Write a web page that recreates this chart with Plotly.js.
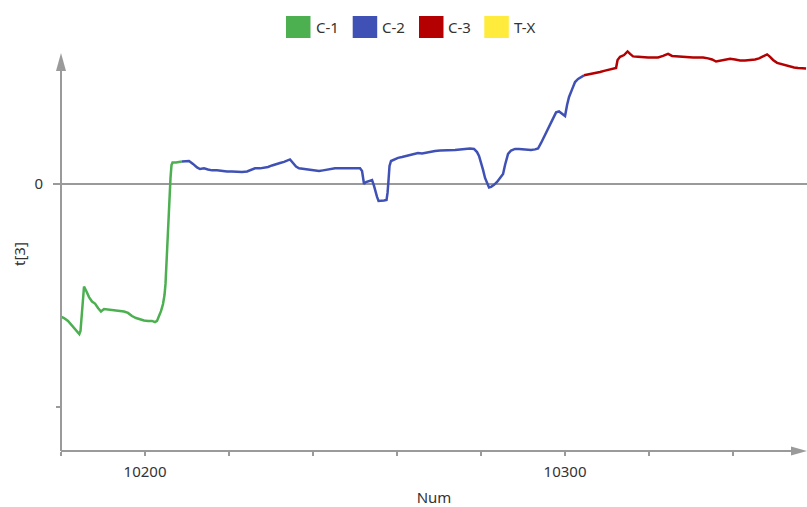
<!DOCTYPE html>
<html>
<head>
<meta charset="utf-8">
<script src="https://cdn.plot.ly/plotly-3.0.1.min.js"></script>
<style>
  html, body { margin: 0; padding: 0; background: #fff; }
  #chart { width: 807px; height: 507px; }
</style>
</head>
<body>
<div id="chart"></div>
<script>
// Series names and colours
const seriesNames = ['C-1', 'C-2', 'C-3', 'T-X'];
const seriesColors = ['#4caf50', '#3f51b5', '#b40000', '#ffeb3b'];

// C-1
const c1X = [10180.00,10180.71,10181.67,10182.86,10184.36,10184.64,10184.88,10185.12,10185.48,10186.07,
  10186.67,10187.38,10188.10,10188.81,10189.52,10190.24,10191.19,10192.14,10193.10,10194.05,
  10195.00,10195.95,10196.90,10197.86,10198.81,10199.76,10200.71,10201.67,10202.38,10202.86,
  10203.33,10203.81,10204.29,10204.64,10204.88,10205.12,10205.36,10205.60,10205.83,10206.07,
  10206.31,10206.55,10207.38,10208.10,10208.81];
const c1Y = [-0.595,-0.601,-0.614,-0.641,-0.673,-0.659,-0.601,-0.520,-0.460,-0.482,
  -0.507,-0.527,-0.536,-0.556,-0.572,-0.561,-0.563,-0.567,-0.570,-0.572,
  -0.572,-0.578,-0.592,-0.601,-0.608,-0.612,-0.614,-0.614,-0.619,-0.614,
  -0.592,-0.570,-0.538,-0.498,-0.448,-0.341,-0.229,-0.139,-0.049,0.027,
  0.085,0.096,0.096,0.099,0.101];

// C-2
const c2X = [10208.81,10209.76,10210.48,10211.43,10212.38,10213.10,10214.05,10215.00,10215.95,10217.14,
  10218.33,10219.52,10220.71,10221.90,10223.10,10224.29,10225.24,10226.19,10227.38,10228.33,
  10229.29,10230.24,10231.19,10232.14,10233.10,10234.05,10234.52,10235.24,10235.95,10236.67,
  10237.86,10239.05,10240.24,10241.43,10242.38,10243.33,10244.29,10245.24,10246.43,10247.62,
  10248.81,10250.00,10251.19,10251.67,10251.90,10252.14,10252.62,10253.10,10253.57,10254.05,
  10254.52,10254.88,10255.24,10255.60,10256.19,10256.90,10257.50,10257.74,10257.98,10258.21,
  10258.57,10259.29,10260.24,10261.19,10262.14,10263.10,10264.05,10265.00,10265.95,10266.90,
  10267.86,10269.05,10270.24,10271.43,10272.62,10273.81,10275.00,10276.19,10277.38,10278.33,
  10279.05,10279.52,10280.00,10280.48,10280.95,10281.43,10281.90,10282.38,10283.10,10283.81,
  10284.52,10285.24,10285.71,10286.07,10286.43,10287.14,10288.10,10289.05,10290.00,10290.95,
  10291.90,10292.86,10293.57,10294.29,10295.00,10295.71,10296.43,10297.14,10297.86,10298.57,
  10299.29,10300.00,10300.48,10300.95,10301.67,10302.38,10303.10,10303.81,10304.52];
const c2Y = [0.101,0.103,0.103,0.090,0.074,0.067,0.070,0.065,0.061,0.061,
  0.058,0.056,0.056,0.054,0.054,0.056,0.063,0.070,0.070,0.072,
  0.076,0.083,0.087,0.094,0.099,0.108,0.110,0.094,0.078,0.070,
  0.067,0.065,0.061,0.058,0.061,0.065,0.067,0.070,0.070,0.070,
  0.070,0.070,0.070,0.058,0.031,0.000,0.009,0.013,0.016,0.018,
  -0.009,-0.036,-0.058,-0.076,-0.076,-0.074,-0.072,-0.040,0.018,0.081,
  0.103,0.110,0.117,0.121,0.126,0.130,0.135,0.139,0.137,0.141,
  0.146,0.148,0.150,0.150,0.152,0.152,0.155,0.157,0.159,0.157,
  0.143,0.126,0.099,0.063,0.027,0.000,-0.016,-0.013,-0.004,0.009,
  0.025,0.045,0.085,0.117,0.135,0.150,0.157,0.157,0.155,0.152,
  0.152,0.155,0.159,0.184,0.211,0.238,0.265,0.291,0.321,0.325,
  0.316,0.305,0.354,0.390,0.424,0.457,0.471,0.480,0.487];

// C-3
const c3X = [10304.52,10305.48,10306.43,10307.38,10308.33,10309.29,10310.24,10311.19,10312.14,10312.50,
  10313.10,10314.05,10314.88,10315.48,10316.19,10317.38,10318.57,10319.76,10320.95,10322.14,
  10323.33,10324.52,10325.48,10326.67,10328.10,10329.29,10330.48,10331.67,10332.86,10334.05,
  10335.00,10335.95,10336.90,10338.10,10339.29,10340.48,10341.67,10342.86,10344.05,10345.24,
  10346.19,10347.14,10348.10,10348.81,10349.52,10350.48,10351.67,10352.62,10353.57,10354.52,
  10355.48,10356.43,10357.38];
const c3Y = [0.487,0.490,0.493,0.498,0.502,0.507,0.511,0.518,0.520,0.556,
  0.570,0.578,0.594,0.583,0.572,0.570,0.567,0.567,0.567,0.567,
  0.574,0.583,0.574,0.572,0.572,0.570,0.567,0.567,0.567,0.563,
  0.558,0.549,0.552,0.556,0.561,0.558,0.554,0.554,0.556,0.558,
  0.563,0.572,0.581,0.570,0.556,0.543,0.536,0.531,0.527,0.522,
  0.520,0.518,0.518];

// T-X (no points in this range)
const txX = [];
const txY = [];

// Axis ticks
const xTickVals = [10180, 10200, 10220, 10240, 10260, 10280, 10300, 10320, 10340];
const xTickText = ['', '10200', '', '', '', '', '10300', '', ''];
const yTickVals = [0, -1];
const yTickText = ['0', ''];
const xRange = [10180, 10357.6];
const yRange = [-1.197, 0.623];
const yTitle = 't[3]';
const xTitle = 'Num';

// ---- drawing ----
const W = 807, H = 507;
const PL = 61, PR = 807, PT = 45, PB = 451;
const fx = px => (px - PL) / (PR - PL);
const fy = py => (PB - py) / (PB - PT);

const FONT = 'Noto Sans, Open Sans, sans-serif';
const TEXT = '#333333';
const AXIS = '#9a9a9a';

const xs = [c1X, c2X, c3X, txX];
const ys = [c1Y, c2Y, c3Y, txY];
const traces = seriesNames.map((name, i) => ({
  type: 'scatter', mode: 'lines', name: name,
  x: xs[i], y: ys[i],
  line: { color: seriesColors[i], width: 2.5 },
  showlegend: false, hoverinfo: 'x+y'
}));

const shapes = [
  // zero reference line
  { type: 'line', xref: 'paper', yref: 'y', x0: fx(53), x1: 1, y0: 0, y1: 0,
    line: { color: AXIS, width: 2 }, layer: 'below' },
  // axis lines
  { type: 'line', xref: 'paper', yref: 'paper', x0: 0, x1: 0, y0: 0, y1: fy(68),
    line: { color: AXIS, width: 2 } },
  { type: 'line', xref: 'paper', yref: 'paper', x0: 0, x1: fx(794), y0: 0, y1: 0,
    line: { color: AXIS, width: 2 } },
  // arrow heads
  { type: 'path', xref: 'paper', yref: 'paper',
    path: `M ${fx(61)},${fy(53)} L ${fx(56)},${fy(71)} L ${fx(66)},${fy(71)} Z`,
    fillcolor: AXIS, line: { width: 0 } },
  { type: 'path', xref: 'paper', yref: 'paper',
    path: `M ${fx(807)},${fy(451)} L ${fx(791)},${fy(446.5)} L ${fx(791)},${fy(455.5)} Z`,
    fillcolor: AXIS, line: { width: 0 } }
];

// legend: coloured squares with labels
const legendBoxLeft = [286, 352.7, 419, 484.3];
const legendBoxW = 24.5, legendTop = 16, legendBottom = 38;
const annotations = [];
seriesNames.forEach((name, i) => {
  shapes.push({ type: 'rect', xref: 'paper', yref: 'paper',
    x0: fx(legendBoxLeft[i]), x1: fx(legendBoxLeft[i] + legendBoxW),
    y0: fy(legendBottom), y1: fy(legendTop),
    fillcolor: seriesColors[i], line: { width: 0 } });
  annotations.push({ xref: 'paper', yref: 'paper',
    x: fx(legendBoxLeft[i] + legendBoxW + 3), y: fy(27),
    xanchor: 'left', yanchor: 'middle', showarrow: false,
    text: name, font: { family: FONT, size: 15, color: TEXT } });
});

// vertical axis title
annotations.push({ xref: 'paper', yref: 'paper', x: fx(19), y: fy(254),
  xanchor: 'center', yanchor: 'middle', showarrow: false, textangle: -90,
  text: yTitle, font: { family: FONT, size: 15, color: TEXT } });

const layout = {
  width: W, height: H,
  margin: { l: PL, r: W - PR, t: PT, b: H - PB },
  paper_bgcolor: '#ffffff', plot_bgcolor: '#ffffff',
  font: { family: FONT, size: 15, color: TEXT },
  showlegend: false,
  xaxis: {
    range: xRange, showgrid: false, zeroline: false, showline: false,
    ticks: 'outside', ticklen: 4, tickwidth: 1.5, tickcolor: AXIS,
    tickvals: xTickVals, ticktext: xTickText, ticklabelstandoff: 3,
    tickfont: { family: FONT, size: 15, color: TEXT },
    title: { text: xTitle, font: { family: FONT, size: 15, color: TEXT }, standoff: 15 },
    automargin: false, fixedrange: true
  },
  yaxis: {
    range: yRange, showgrid: false, zeroline: false, showline: false,
    ticks: 'outside', ticklen: 4, tickwidth: 1.5, tickcolor: AXIS,
    tickvals: yTickVals, ticktext: yTickText, ticklabelstandoff: 10,
    tickfont: { family: FONT, size: 15, color: TEXT },
    automargin: false, fixedrange: true
  },
  shapes: shapes,
  annotations: annotations
};

Plotly.newPlot('chart', traces, layout, { displayModeBar: false, staticPlot: true });
</script>
</body>
</html>
